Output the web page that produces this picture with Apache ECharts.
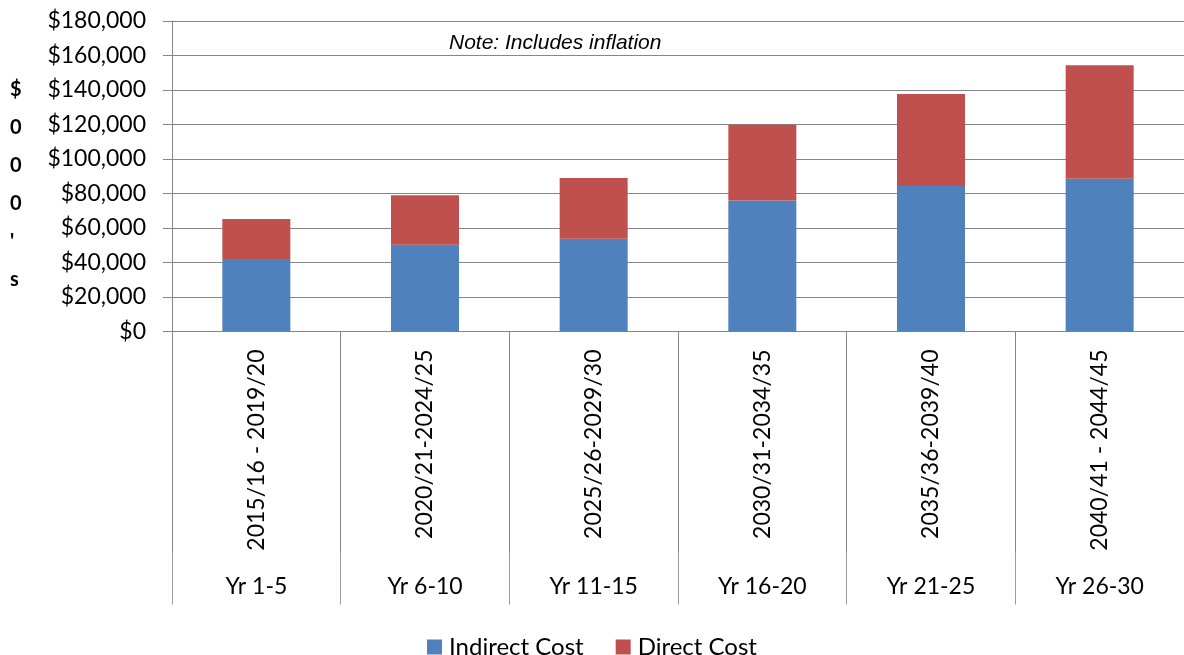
<!DOCTYPE html>
<html>
<head>
<meta charset="utf-8">
<title>Indirect and Direct Cost by Period</title>
<script src="https://cdn.jsdelivr.net/npm/echarts@6/dist/echarts.min.js"></script>
<style>
  html, body { margin: 0; padding: 0; background: #ffffff; }
  #chart { width: 1184px; height: 655px; }
</style>
</head>
<body>
<div id="chart"></div>
<script>
// Financial-year ranges (first axis level) and plan years (second level)
const yearRanges = ['2015/16 - 2019/20', '2020/21-2024/25', '2025/26-2029/30',
                    '2030/31-2034/35', '2035/36-2039/40', '2040/41 - 2044/45'];
const planYears = ['Yr 1-5', 'Yr 6-10', 'Yr 11-15', 'Yr 16-20', 'Yr 21-25', 'Yr 26-30'];

// Costs in $000's, inflation included
const indirectCost = [42000, 50300, 53800, 76000, 84300, 88600];
const directCost   = [23200, 28700, 35200, 43900, 53400, 65700];

const yTicks = { min: 0, max: 180000, step: 20000 };

const FONT = 'Lato';
const GRID_COLOR = '#868686';

const chart = echarts.init(document.getElementById('chart'), null, { renderer: 'canvas' });

chart.setOption({
  animation: false,
  backgroundColor: '#ffffff',
  textStyle: { fontFamily: FONT, color: '#000' },
  title: {
    text: 'Note: Includes inflation',
    left: 444,
    top: 28,
    textStyle: {
      fontFamily: 'Liberation Sans',
      fontStyle: 'italic',
      fontWeight: 'normal',
      fontSize: 21,
      color: '#000'
    }
  },
  graphic: [{
    type: 'text',
    left: 10,
    top: 71,
    style: {
      text: "$\n0\n0\n0\n'\ns",
      font: 'bold 20px Lato',
      fill: '#000',
      lineHeight: 38,
      align: 'center'
    }
  }],
  legend: {
    left: 'center',
    top: 630,
    itemWidth: 15,
    itemHeight: 15,
    itemGap: 32,
    icon: 'rect',
    textStyle: { fontFamily: FONT, fontSize: 24, color: '#000', padding: [0, 0, 0, 2] },
    data: ['Indirect Cost', 'Direct Cost']
  },
  grid: { left: 172, right: -2, top: 21, bottom: 323.5, containLabel: false },
  xAxis: [{
    type: 'category',
    data: yearRanges,
    position: 'bottom',
    axisLine: { show: true, lineStyle: { color: GRID_COLOR, width: 1 } },
    axisTick: { show: true, interval: 0, length: 222, lineStyle: { color: GRID_COLOR } },
    axisLabel: { interval: 0, rotate: 90, margin: 18, fontFamily: FONT, fontSize: 23, color: '#000' }
  }, {
    type: 'category',
    data: planYears,
    position: 'bottom',
    offset: 222,
    axisLine: { show: false },
    axisTick: { show: true, interval: 0, length: 51, lineStyle: { color: '#9c9c9c' } },
    axisLabel: { interval: 0, margin: 22, fontFamily: FONT, fontSize: 23, color: '#000' }
  }],
  yAxis: {
    type: 'value',
    min: yTicks.min,
    max: yTicks.max,
    interval: yTicks.step,
    axisLine: { show: true, lineStyle: { color: GRID_COLOR, width: 1 } },
    axisTick: { show: true, length: 9, lineStyle: { color: GRID_COLOR } },
    splitLine: { show: true, lineStyle: { color: GRID_COLOR, width: 1 } },
    axisLabel: {
      margin: 26,
      fontFamily: FONT,
      fontSize: 23,
      color: '#000',
      formatter: v => '$' + v.toLocaleString('en-US')
    }
  },
  series: [{
    name: 'Indirect Cost',
    type: 'bar',
    stack: 'cost',
    barWidth: 68,
    xAxisIndex: 0,
    itemStyle: { color: '#4F81BD' },
    data: indirectCost
  }, {
    name: 'Direct Cost',
    type: 'bar',
    stack: 'cost',
    barWidth: 68,
    xAxisIndex: 0,
    itemStyle: { color: '#C0504D' },
    data: directCost
  }]
});
</script>
</body>
</html>
